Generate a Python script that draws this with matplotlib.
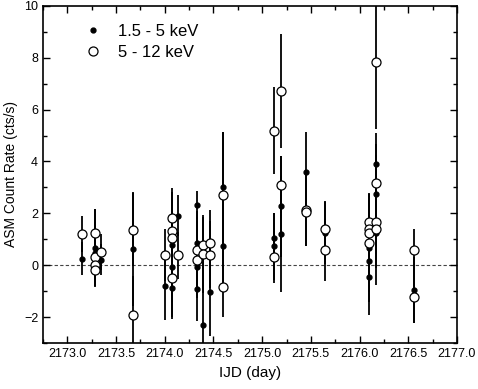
import matplotlib.pyplot as plt
from matplotlib.ticker import MultipleLocator, FormatStrFormatter

plt.rcParams['font.family'] = ['Liberation Sans', 'DejaVu Sans']

# 1.5 - 5 keV (filled)
t_lo = [2173.15, 2173.28, 2173.28, 2173.35, 2173.67, 2174.00, 2174.07, 2174.07,
        2174.07, 2174.14, 2174.33, 2174.33, 2174.33, 2174.33, 2174.39, 2174.46,
        2174.60, 2174.60, 2175.12, 2175.12, 2175.19, 2175.19, 2175.45, 2175.64,
        2176.10, 2176.10, 2176.10, 2176.17, 2176.17, 2176.17, 2176.56]
r_lo = [0.26, 0.65, 0.48, 0.22, 0.63, -0.81, 0.77, -0.08,
        -0.87, 1.91, 2.33, 0.86, -0.05, -0.93, -2.32, -1.04,
        3.02, 0.76, 1.05, 0.73, 2.27, 1.21, 3.58, 1.25,
        0.67, 0.18, -0.45, 3.91, 2.75, 1.25, -0.97]
e_lo = [0.62, 1.5, 1.2, 0.6, 2.2, 1.3, 2.2, 1.3,
        1.2, 0.8, 0.55, 1.0, 1.0, 1.2, 2.0, 1.7,
        2.1, 1.6, 0.95, 1.3, 1.95, 2.25, 1.57, 1.2,
        2.1, 1.2, 1.45, 1.2, 1.5, 2.0, 1.27]

# 5 - 12 keV (open)
t_hi = [2173.15, 2173.28, 2173.28, 2173.28, 2173.28, 2173.35, 2173.67, 2173.67,
        2174.00, 2174.07, 2174.07, 2174.07, 2174.07, 2174.14, 2174.33, 2174.33,
        2174.39, 2174.39, 2174.46, 2174.46, 2174.60, 2174.60, 2175.12, 2175.12,
        2175.19, 2175.19, 2175.45, 2175.45, 2175.64, 2175.64, 2176.10, 2176.10,
        2176.10, 2176.10, 2176.17, 2176.17, 2176.17, 2176.17, 2176.56, 2176.56]
r_hi = [1.21, 1.25, 0.30, 0.0, -0.2, 0.51, 1.37, -1.93,
        0.38, 1.82, 1.31, 1.05, -0.51, 0.38, 0.58, 0.22,
        0.77, 0.45, 0.86, 0.41, 2.72, -0.83, 5.19, 0.32,
        6.73, 3.10, 2.14, 2.05, 1.41, 0.58, 1.65, 1.40,
        1.25, 0.86, 7.85, 3.19, 1.65, 1.40, 0.58, -1.22]
e_hi = [0.7, 0.9, 0.8, 0.8, 0.6, 0.7, 1.4, 1.5,
        1.0, 1.0, 1.2, 1.2, 1.5, 0.9, 1.5, 1.5,
        1.1, 1.5, 1.26, 1.3, 2.4, 1.15, 1.67, 1.0,
        2.2, 1.1, 1.4, 1.3, 1.05, 1.2, 1.1, 1.3,
        1.5, 1.5, 2.6, 1.5, 1.2, 1.5, 0.8, 1.0]

fig = plt.figure(figsize=(4.78, 3.89), dpi=100)
ax = fig.add_axes([0.09, 0.118, 0.866, 0.867])

ax.axhline(0, color='#444444', linestyle='--', linewidth=0.8, dashes=(3, 2), zorder=1)

ax.errorbar(t_lo, r_lo, yerr=e_lo, fmt='none', ecolor='black', elinewidth=1.3, capsize=0, zorder=2)
ax.errorbar(t_hi, r_hi, yerr=e_hi, fmt='none', ecolor='black', elinewidth=1.3, capsize=0, zorder=2)
ax.plot(t_lo, r_lo, 'o', color='black', markersize=3.5, linestyle='none', zorder=3,
        label='1.5 - 5 keV')
ax.plot(t_hi, r_hi, 'o', mfc='white', mec='black', mew=0.9, markersize=6.5, linestyle='none',
        zorder=4, label='5 - 12 keV')

ax.set_xlim(2172.75, 2177.0)
ax.set_ylim(-3, 10)
ax.xaxis.set_major_locator(MultipleLocator(0.5))
ax.xaxis.set_minor_locator(MultipleLocator(0.25))
ax.xaxis.set_major_formatter(FormatStrFormatter('%.1f'))
ax.yaxis.set_major_locator(MultipleLocator(2))
ax.yaxis.set_minor_locator(MultipleLocator(1))
ax.tick_params(which='both', direction='in', top=True, right=True, labelsize=9)
ax.tick_params(which='major', length=5, width=1)
ax.tick_params(which='minor', length=3, width=1)
for s in ax.spines.values():
    s.set_linewidth(1.2)

ax.set_xlabel('IJD (day)', fontsize=11)
ax.set_ylabel('ASM Count Rate (cts/s)', fontsize=10)
ax.legend(loc='upper left', frameon=False, fontsize=12, handletextpad=0.5,
          borderaxespad=0.6, labelspacing=0.35, bbox_to_anchor=(0.04, 0.995))

fig.savefig('out.png', dpi=100)
